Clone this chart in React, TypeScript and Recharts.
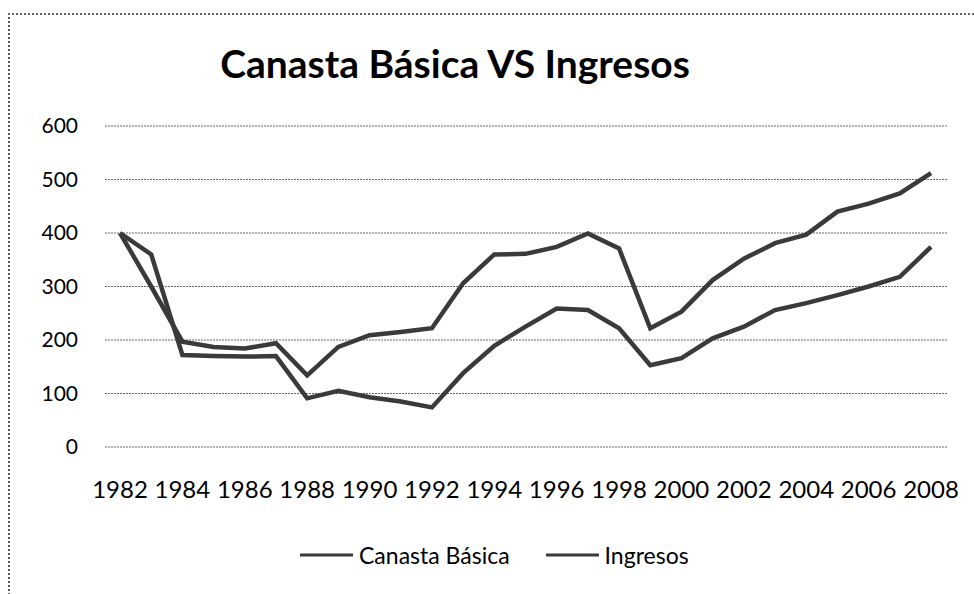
import { LineChart, Line, XAxis, YAxis, CartesianGrid } from 'recharts';

// años 1982..2008
const years = [
  '1982', '1983', '1984', '1985', '1986', '1987', '1988', '1989', '1990',
  '1991', '1992', '1993', '1994', '1995', '1996', '1997', '1998', '1999',
  '2000', '2001', '2002', '2003', '2004', '2005', '2006', '2007', '2008',
];

const canastaBasica = [
  400, 300, 197, 187, 184, 194, 134, 187, 209, 215, 222, 306, 360, 361,
  374, 399, 371, 222, 253, 312, 352, 381, 397, 440, 455, 474, 512,
];

const ingresos = [
  400, 360, 172, 170, 169, 170, 91, 105, 93, 85, 74, 138, 189, 225,
  259, 256, 222, 153, 166, 203, 225, 256, 269, 284, 300, 318, 374,
];

const yTicks = [0, 100, 200, 300, 400, 500, 600];

const LINE_COLOR = '#3a3a3a';
const FONT = 'Lato, "Open Sans", sans-serif';

const data = years.map((y, i) => ({
  year: y,
  canasta: canastaBasica[i],
  ingresos: ingresos[i],
}));

function LegendItem({ label }: { label: string }) {
  return (
    <div style={{ display: 'flex', alignItems: 'center' }}>
      <svg width={53} height={6}>
        <line x1={0} y1={3} x2={53} y2={3} stroke={LINE_COLOR} strokeWidth={3} />
      </svg>
      <span style={{ marginLeft: 6 }}>{label}</span>
    </div>
  );
}

export default function App() {
  return (
    <div
      style={{
        position: 'absolute',
        left: 0,
        top: 0,
        width: 974,
        height: 594,
        background: '#fff',
        fontFamily: FONT,
        overflow: 'hidden',
      }}
    >
      {/* marco del gráfico */}
      <div
        style={{
          position: 'absolute',
          left: 8,
          top: 13,
          width: 980,
          height: 600,
          borderLeft: '2px dotted #555',
          borderTop: '2px dotted #666',
        }}
      />
      <div
        style={{
          position: 'absolute',
          left: 0,
          width: 910,
          top: 40,
          textAlign: 'center',
          fontSize: 39,
          fontWeight: 700,
          color: '#000',
        }}
      >
        Canasta Básica VS Ingresos
      </div>

      <div style={{ position: 'absolute', left: 0, top: 0 }}>
        <LineChart
          width={974}
          height={594}
          data={data}
          margin={{ top: 126, right: 27, left: 45, bottom: 87 }}
        >
          <CartesianGrid
            vertical={false}
            stroke="#666"
            strokeDasharray="2 1"
          />
          <XAxis
            dataKey="year"
            interval={1}
            axisLine={false}
            tickLine={false}
            tickMargin={28}
            height={60}
            padding={{ left: 15, right: 16 }}
            tick={{ fill: '#000', fontSize: 24, fontFamily: FONT }}
          />
          <YAxis
            domain={[0, 600]}
            ticks={yTicks}
            axisLine={false}
            tickLine={false}
            tickMargin={21}
            width={60}
            tick={{ fill: '#000', fontSize: 21, fontFamily: FONT }}
          />
          <Line
            dataKey="canasta"
            name="Canasta Básica"
            stroke={LINE_COLOR}
            strokeWidth={4.5}
            dot={false}
            isAnimationActive={false}
          />
          <Line
            dataKey="ingresos"
            name="Ingresos"
            stroke={LINE_COLOR}
            strokeWidth={4.5}
            dot={false}
            isAnimationActive={false}
          />
        </LineChart>
      </div>

      <div
        style={{
          position: 'absolute',
          top: 541,
          left: 300,
          display: 'flex',
          gap: 36,
          fontSize: 23,
          color: '#000',
        }}
      >
        <LegendItem label="Canasta Básica" />
        <LegendItem label="Ingresos" />
      </div>
    </div>
  );
}
